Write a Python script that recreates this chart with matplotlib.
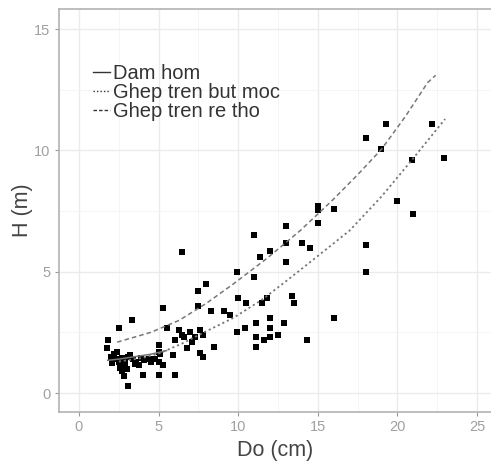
import matplotlib
matplotlib.use("Agg")
import matplotlib.pyplot as plt
from matplotlib.lines import Line2D
import numpy as np

plt.rcParams['font.family'] = ['Liberation Sans', 'DejaVu Sans']

# Observed points (Do in cm, H in m)
do_cm = [19.3, 22.2, 18.0, 19.0, 20.9, 22.9, 20.0, 21.0, 15.0, 15.0, 16.0, 15.0, 18.0, 18.0,
         13.0, 11.0, 13.0, 14.0, 14.5, 12.0, 11.4, 13.0, 6.5, 11.0, 8.0, 7.5, 10.0, 10.5,
         11.8, 11.5, 13.4, 13.5, 7.5, 8.3, 5.3, 9.1, 9.5, 12.0, 3.3, 2.5, 16.0, 12.9, 5.5,
         6.3, 6.5, 7.0, 7.3, 7.6, 7.8, 9.9, 10.4, 11.1, 12.0, 12.5, 11.1, 11.6, 12.0, 11.1,
         14.3, 8.5, 7.6, 7.8, 5.9, 5.0, 5.0, 5.1, 5.3, 6.8, 1.8, 1.75, 2.0, 2.3, 2.5, 2.7,
         2.9, 3.1, 3.4, 3.6, 3.9, 4.1, 2.7, 2.8, 4.0, 5.0, 6.0, 3.1, 2.6, 3.8, 2.2, 2.9,
         4.5, 9.9, 6.0, 4.8, 3.0, 2.4, 3.2, 2.1, 2.6, 3.5, 4.4, 5.0, 6.6, 7.1]
h_m = [11.1, 11.1, 10.5, 10.05, 9.6, 9.7, 7.9, 7.4, 7.55, 7.7, 7.6, 7.0, 6.1, 5.0,
       6.9, 6.5, 6.2, 6.2, 6.0, 5.85, 5.6, 5.4, 5.8, 4.8, 4.5, 4.2, 3.9, 3.7,
       3.9, 3.7, 4.0, 3.7, 3.6, 3.4, 3.5, 3.4, 3.2, 3.1, 3.0, 2.7, 3.1, 2.9, 2.7,
       2.6, 2.4, 2.5, 2.3, 2.6, 2.4, 2.5, 2.7, 2.9, 2.7, 2.4, 2.3, 2.2, 2.3, 1.9,
       2.2, 1.9, 1.65, 1.5, 1.55, 1.7, 2.0, 1.6, 1.15, 1.85, 2.2, 1.85, 1.5, 1.4, 1.3, 1.45,
       1.35, 1.5, 1.4, 1.3, 1.45, 1.35, 0.9, 0.7, 0.75, 0.75, 0.75, 0.3, 1.2, 1.15, 1.6, 1.1,
       1.3, 5.0, 2.2, 1.4, 1.0, 1.7, 1.55, 1.25, 1.05, 1.2, 1.4, 1.3, 2.3, 2.1]

# Fitted curves
fit_dh_x = [1.8, 2.5, 3.5, 4.5, 5.5]
fit_dh_y = [1.35, 1.4, 1.5, 1.6, 1.75]
fit_bm_x = [2.5, 4.0, 5.1, 6.5, 8.0, 9.7, 11.5, 13.1, 15.0, 17.0, 19.0, 20.9, 23.0]
fit_bm_y = [1.3, 1.45, 1.65, 2.05, 2.55, 3.1, 3.85, 4.66, 5.65, 6.7, 8.1, 9.6, 11.3]
fit_rt_x = [2.4, 4.5, 6.3, 8.0, 9.7, 11.8, 13.9, 16.0, 17.5, 19.0, 20.5, 21.9, 22.4]
fit_rt_y = [2.1, 2.5, 3.0, 3.7, 4.5, 5.55, 6.7, 8.0, 9.0, 10.05, 11.4, 12.8, 13.1]

legend_labels = ["Dam hom", "Ghep tren but moc", "Ghep tren re tho"]
x_ticks = [0, 5, 10, 15, 20, 25]
y_ticks = [0, 5, 10, 15]

fig = plt.figure(figsize=(4.91, 4.65), dpi=100)
ax = fig.add_axes([0.120, 0.114, 0.880, 0.867])

ax.set_xlim(-1.26, 25.88)
ax.set_ylim(-0.78, 15.84)

ax.set_xticks(x_ticks)
ax.set_yticks(y_ticks)
ax.set_xticks([2.5, 7.5, 12.5, 17.5, 22.5], minor=True)
ax.set_yticks([2.5, 7.5, 12.5], minor=True)
ax.grid(which="major", color="#ebebeb", linewidth=1.0)
ax.grid(which="minor", color="#f4f4f4", linewidth=0.6)
ax.set_axisbelow(True)
ax.tick_params(which="minor", length=0)
ax.tick_params(which="major", length=3, color="#999999", labelsize=10.5,
               labelcolor="#a0a0a0", width=0.8, pad=3)

for s in ["left", "bottom", "top"]:
    ax.spines[s].set_color("#b3b3b3")
    ax.spines[s].set_linewidth(1.2)
ax.spines["right"].set_visible(False)

ax.scatter(do_cm, h_m, marker="s", s=13, color="black", zorder=3, linewidths=0)

lc = "#777777"
ax.plot(fit_dh_x, fit_dh_y, color=lc, linestyle="-", linewidth=1.1, zorder=4)
ax.plot(fit_bm_x, fit_bm_y, color=lc, linestyle=(0, (1.2, 1.6)), linewidth=1.3, zorder=4)
ax.plot(fit_rt_x, fit_rt_y, color=lc, linestyle=(0, (3, 2)), linewidth=1.1, zorder=4)

handles = [Line2D([], [], color="#333333", linestyle="-", linewidth=1.0),
           Line2D([], [], color="#333333", linestyle=(0, (1, 1.5)), linewidth=1.0),
           Line2D([], [], color="#333333", linestyle=(0, (2.5, 1.5)), linewidth=1.0)]
leg = ax.legend(handles, legend_labels, loc="upper left", bbox_to_anchor=(0.055, 0.888),
                frameon=False, fontsize=14.5, handlelength=0.85, handletextpad=0.15,
                labelspacing=0.0, borderpad=0)
for t in leg.get_texts():
    t.set_color("#333333")

ax.set_xlabel("Do (cm)", fontsize=15.5, color="#444444", labelpad=4)
ax.set_ylabel("H (m)", fontsize=15.5, color="#444444", labelpad=1)

fig.savefig("out.png", dpi=100)
